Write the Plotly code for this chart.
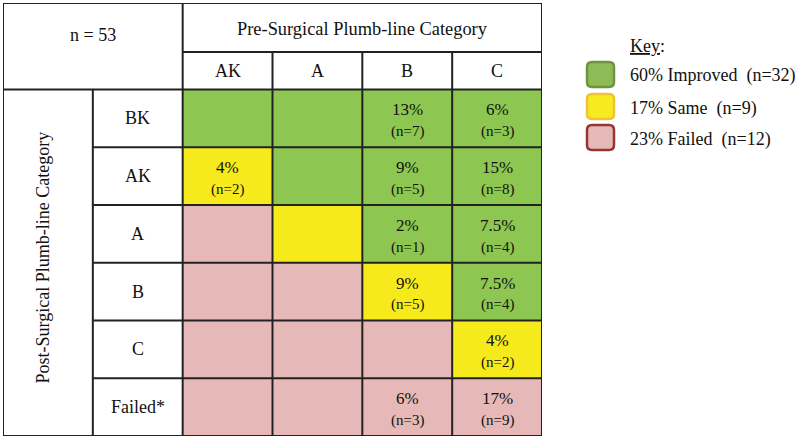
import plotly.graph_objects as go

# ---------------- data ----------------
pre_categories = ["AK", "A", "B", "C"]            # columns (pre-surgical)
post_categories = ["BK", "AK", "A", "B", "C", "Failed*"]  # rows (post-surgical)
# outcome code per cell: 0 = Improved, 1 = Same, 2 = Failed
outcome = [
    [0, 0, 0, 0],
    [1, 0, 0, 0],
    [2, 1, 0, 0],
    [2, 2, 1, 0],
    [2, 2, 2, 1],
    [2, 2, 2, 2],
]
pct_text = [
    ["", "", "13%", "6%"],
    ["4%", "", "9%", "15%"],
    ["", "", "2%", "7.5%"],
    ["", "", "9%", "7.5%"],
    ["", "", "", "4%"],
    ["", "", "6%", "17%"],
]
n_text = [
    ["", "", "(n=7)", "(n=3)"],
    ["(n=2)", "", "(n=5)", "(n=8)"],
    ["", "", "(n=1)", "(n=4)"],
    ["", "", "(n=5)", "(n=4)"],
    ["", "", "", "(n=2)"],
    ["", "", "(n=3)", "(n=9)"],
]
total_n = 53
key_labels = ["60% Improved\u00a0 (n=32)", "17% Same\u00a0 (n=9)", "23% Failed\u00a0 (n=12)"]
cell_colors = ["#8DC650", "#F6EA1C", "#E6B9B8"]
key_fill = ["#8DBB55", "#F7EA1E", "#E6B9B8"]
key_line = ["#6E9440", "#F0C23A", "#943634"]

FONT = "Liberation Serif"
LINE = "#222222"

ncol = len(pre_categories)
nrow = len(post_categories)
X0 = 2  # data columns start after two label columns
H1 = -1.5  # top of header row 1
H2 = -0.65  # boundary between header rows

fig = go.Figure()

fig.add_trace(go.Heatmap(
    x=[X0 + j + 0.5 for j in range(ncol)],
    y=[i + 0.5 for i in range(nrow)],
    z=outcome,
    zmin=-0.5, zmax=2.5,
    colorscale=[[0, cell_colors[0]], [1/3, cell_colors[0]],
                [1/3, cell_colors[1]], [2/3, cell_colors[1]],
                [2/3, cell_colors[2]], [1, cell_colors[2]]],
    showscale=False, hoverinfo="skip",
))

shapes = []
def seg(x0, y0, x1, y1, w=2):
    shapes.append(dict(type="line", xref="x", yref="y", x0=x0, y0=y0, x1=x1, y1=y1,
                       line=dict(color=LINE, width=w)))

xr = X0 + ncol
# outer border
seg(0, H1, xr, H1); seg(0, nrow, xr, nrow)
seg(0, H1, 0, nrow); seg(xr, H1, xr, nrow)
# header lines
seg(X0, H2, xr, H2)
seg(0, 0, xr, 0)
seg(X0, H1, X0, nrow)
for j in range(1, ncol):
    seg(X0 + j, H2, X0 + j, nrow)
# row label column
seg(1, 0, 1, nrow)
for i in range(1, nrow):
    seg(1, i, xr, i)

ann = []
def txt(x, y, s, size, **kw):
    d = dict(x=x, y=y, xref="x", yref="y", text=s, showarrow=False,
             font=dict(family=FONT, size=size, color="#111111"))
    d.update(kw)
    ann.append(d)

txt(1.0, -0.95, f"n = {total_n}", 18)
txt(X0 + ncol / 2, (H1 + H2) / 2 + 0.02, "Pre-Surgical Plumb-line Category", 18.4)
for j, c in enumerate(pre_categories):
    txt(X0 + j + 0.5, H2 / 2, c, 18)
for i, r in enumerate(post_categories):
    txt(1.5, i + 0.5, r, 18)
txt(0.45, nrow / 2 - 0.1, "Post-Surgical Plumb-line Category", 18, textangle=-90)
for i in range(nrow):
    for j in range(ncol):
        if pct_text[i][j]:
            txt(X0 + j + 0.5, i + 0.35, pct_text[i][j], 17)
        if n_text[i][j]:
            txt(X0 + j + 0.5, i + 0.73, n_text[i][j], 15)

# key (legend) in paper coordinates
W, Hh, L, B = 539.0, 433.0, 3.0, 3.0
def px(x): return (x - L) / W
def py(y): return (439 - B - y) / Hh

ann.append(dict(x=px(628), y=py(46), xref="paper", yref="paper",
                xanchor="left", yanchor="middle",
                text="<u>Key</u>:", showarrow=False,
                font=dict(family=FONT, size=18, color="#111111")))
box_top = [62, 94, 125]
for k, lab in enumerate(key_labels):
    x0, x1 = px(587), px(614)
    ya, yb = py(box_top[k]), py(box_top[k] + 25)
    rx, ry = 5 / W, 5 / Hh
    path = (f"M {x0+rx},{ya} L {x1-rx},{ya} Q {x1},{ya} {x1},{ya-ry} "
            f"L {x1},{yb+ry} Q {x1},{yb} {x1-rx},{yb} L {x0+rx},{yb} "
            f"Q {x0},{yb} {x0},{yb+ry} L {x0},{ya-ry} Q {x0},{ya} {x0+rx},{ya} Z")
    shapes.append(dict(type="path", xref="paper", yref="paper", path=path,
                       fillcolor=key_fill[k], line=dict(color=key_line[k], width=2.5)))
    ann.append(dict(x=px(628), y=py(box_top[k] + 14), xref="paper", yref="paper",
                    xanchor="left", yanchor="middle", text=lab, showarrow=False,
                    font=dict(family=FONT, size=18, color="#111111")))

fig.update_layout(
    width=800, height=439,
    margin=dict(l=3, r=258, t=3, b=3),
    paper_bgcolor="white", plot_bgcolor="white",
    xaxis=dict(range=[0, xr], visible=False, fixedrange=True),
    yaxis=dict(range=[nrow, H1], visible=False, fixedrange=True),
    shapes=shapes, annotations=ann, showlegend=False,
)
fig.write_html("out.html", config={"displayModeBar": False},
               post_script="document.body.style.margin='0px';")
